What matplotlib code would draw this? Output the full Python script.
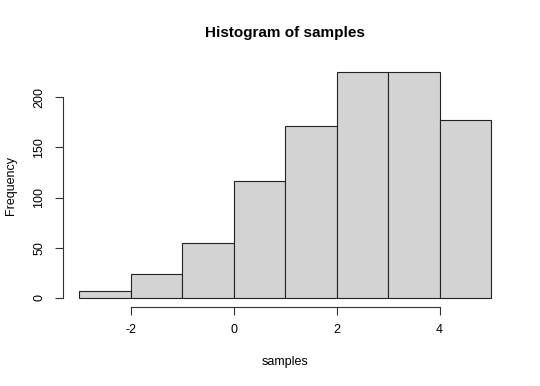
import numpy as np
import matplotlib
matplotlib.use("Agg")
import matplotlib.pyplot as plt

# histogram of samples, counts
bin_edges = [-3, -2, -1, 0, 1, 2, 3, 4, 5]
counts = [7, 24, 55, 116, 171, 225, 225, 177]
x_ticks = [-2, 0, 2, 4]
y_ticks = [0, 50, 100, 150, 200]

plt.rcParams['font.family'] = ['Liberation Sans', 'DejaVu Sans']

fig = plt.figure(figsize=(5.4, 3.86), dpi=100)
ax = fig.add_axes([0.1163, 0.2047, 0.8235, 0.632])

centers = [(a + b) / 2 for a, b in zip(bin_edges[:-1], bin_edges[1:])]
ax.hist(centers, bins=bin_edges, weights=counts,
        facecolor='#d3d3d3', edgecolor='#222222', linewidth=0.8)

# R style: 4% padding around the data range
xr = bin_edges[-1] - bin_edges[0]
ax.set_xlim(bin_edges[0] - 0.04 * xr, bin_edges[-1] + 0.04 * xr)
ymax = max(counts)
ax.set_ylim(-0.04 * ymax, ymax * 1.04)

for s in ['top', 'right']:
    ax.spines[s].set_visible(False)
ax.spines['left'].set_bounds(y_ticks[0], y_ticks[-1])
ax.spines['bottom'].set_bounds(x_ticks[0], x_ticks[-1])
for s in ['left', 'bottom']:
    ax.spines[s].set_linewidth(0.8)
    ax.spines[s].set_color('#333333')

ax.set_xticks(x_ticks)
ax.set_yticks(y_ticks)
ax.set_xticklabels([str(v) for v in x_ticks])
ax.set_yticklabels([str(v) for v in y_ticks], rotation=90, va='center')
ax.tick_params(direction='out', length=5.5, width=0.8, color='#333333',
               labelsize=9, pad=7)

ax.set_xlabel('samples', fontsize=9, labelpad=14)
ax.set_ylabel('Frequency', fontsize=9, labelpad=12)
ax.set_title('Histogram of samples', fontsize=11, fontweight='bold', pad=19)

fig.savefig('out.png', dpi=100)
